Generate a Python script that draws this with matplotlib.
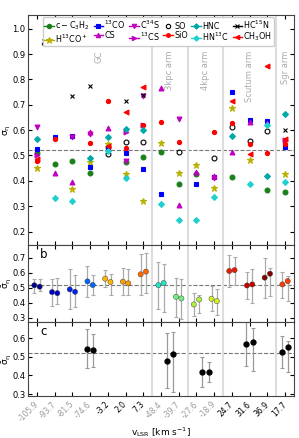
import numpy as np
import matplotlib.pyplot as plt
from matplotlib.lines import Line2D

nan = np.nan

# velocity components (x categories)
vlsr = ['-105.9', '-93.7', '-81.5', '-74.6', '-3.2', '2.0', '7.3',
        '-48.4', '-39.7', '-27.6', '-18.9', '24.7', '31.6', '36.9', '17.7']
tick_grey = [True, True, True, True, False, False, False,
             True, True, True, True, False, False, False, False]

# panel a: sigma_eta per species
c3h2 = [0.51, 0.467, 0.478, 0.432, 0.535, 0.474, 0.495, 0.513, 0.386, 0.425, nan, 0.416, nan, 0.362, 0.355]
h13cop = [0.451, nan, 0.368, 0.475, 0.547, 0.425, 0.32, 0.55, 0.432, 0.462, 0.372, 0.686, 0.484, nan, 0.428]
co13 = [0.524, 0.572, 0.576, 0.454, 0.528, 0.508, 0.447, 0.349, nan, 0.386, 0.414, 0.751, 0.642, 0.636, 0.533]
cs = [nan, 0.432, 0.395, 0.592, 0.609, nan, nan, 0.767, 0.304, 0.436, 0.418, 0.513, 0.633, 0.628, nan]
c34s = [0.613, nan, 0.573, 0.586, nan, 0.48, 0.735, nan, 0.645, nan, 0.41, nan, nan, nan, nan]
cs13 = [0.503, nan, nan, nan, nan, 0.592, 0.62, nan, nan, nan, nan, nan, nan, nan, 0.56]
so = [nan, nan, nan, nan, 0.507, 0.554, 0.554, nan, 0.514, nan, 0.491, 0.612, 0.557, 0.596, nan]
sio = [0.478, 0.565, nan, 0.549, 0.714, 0.529, 0.622, 0.632, 0.554, nan, 0.592, 0.629, 0.547, 0.511, 0.546]
hnc = [0.566, nan, nan, 0.49, 0.574, 0.603, 0.599, nan, nan, nan, nan, 0.576, nan, 0.418, 0.662]
hn13c = [nan, 0.333, 0.32, nan, 0.517, 0.412, nan, 0.307, 0.247, 0.245, 0.336, nan, 0.388, 0.622, 0.396]
hc15n = [nan, nan, 0.734, 0.776, nan, 0.714, 0.737, nan, nan, nan, nan, nan, nan, nan, 0.599]
ch3oh = [0.485, nan, nan, nan, 0.537, 0.672, 0.77, nan, nan, nan, nan, 0.714, 0.504, 0.853, 0.567]

# panel b: mean sigma_eta, two estimates per component (value, lower end, upper end)
b1 = [0.516, 0.471, 0.489, 0.542, 0.56, 0.54, 0.589, 0.517, 0.44, 0.389, 0.427, 0.611, 0.515, 0.567, 0.522]
b1_lo = [0.467, 0.382, 0.356, 0.44, 0.504, 0.449, 0.455, 0.36, 0.307, 0.311, 0.344, 0.507, 0.427, 0.433, 0.433]
b1_hi = [0.56, 0.56, 0.627, 0.644, 0.616, 0.633, 0.722, 0.671, 0.567, 0.467, 0.511, 0.715, 0.607, 0.7, 0.607]
b2 = [0.507, 0.464, 0.473, 0.518, 0.538, 0.529, 0.607, 0.531, 0.429, 0.422, 0.411, 0.617, 0.522, 0.593, 0.544]
b2_lo = [0.478, 0.393, 0.373, 0.451, 0.451, 0.455, 0.467, 0.337, 0.295, 0.335, 0.322, 0.515, 0.4, 0.444, 0.411]
b2_hi = [0.56, 0.567, 0.582, 0.584, 0.593, 0.627, 0.733, 0.655, 0.555, 0.449, 0.493, 0.707, 0.622, 0.629, 0.578]
b_colors = ['#00008f', '#0000c8', '#0020f0', '#0064ff', '#ffb400', '#ff9a00', '#ff6a00',
            '#20e8c0', '#70f080', '#b0f040', '#d8f020', '#ee1a00', '#c80000', '#800000', '#ff3a00']

# panel c: per region (GC, 3kpc, 4kpc, Scutum, Sgr)
region_names = ['GC', '3kpc arm', '4kpc arm', 'Scutum arm', 'Sgr arm']
region_pos = [3.5, 7.5, 9.5, 12, 14]
region_mid = [3, 7.5, 9.5, 12, 14]
region_edges = [6.5, 8.5, 10.5, 13.5]
c1 = [0.541, 0.479, 0.416, 0.568, 0.527]
c1_lo = [0.438, 0.333, 0.336, 0.449, 0.44]
c1_hi = [0.648, 0.625, 0.497, 0.684, 0.612]
c2 = [0.537, 0.514, 0.42, 0.58, 0.55]
c2_lo = [0.447, 0.31, 0.363, 0.422, 0.417]
c2_hi = [0.621, 0.634, 0.47, 0.652, 0.582]

ref = 0.52

plt.rcParams['font.size'] = 6.5
plt.rcParams['mathtext.default'] = 'regular'
fig = plt.figure(figsize=(2.99, 4.38), dpi=100)
gs = fig.add_gridspec(3, 1, height_ratios=[230, 77, 74], hspace=0,
                      left=0.094, right=0.983, top=0.966, bottom=0.096)
ax_a = fig.add_subplot(gs[0])
ax_b = fig.add_subplot(gs[1], sharex=ax_a)
ax_c = fig.add_subplot(gs[2], sharex=ax_a)
x = np.arange(len(vlsr))

species = [
    (c3h2, r'$c-C_3H_2$', 'o', '#1a7f1a', 'full', True),
    (h13cop, r'H$^{13}$CO$^+$', '*', '#b8b000', 'full', True),
    (co13, r'$^{13}$CO', 's', '#0000ff', 'full', True),
    (cs, 'CS', '^', '#c000c0', 'full', True),
    (c34s, r'C$^{34}$S', 'v', '#c000c0', 'full', True),
    (cs13, r'$^{13}$CS', '>', '#c000c0', 'full', True),
    (so, 'SO', 'o', 'k', 'none', False),
    (sio, 'SiO', 'o', '#ff0000', 'full', True),
    (hnc, 'HNC', 'D', '#00a8a8', 'full', True),
    (hn13c, r'HN$^{13}$C', 'D', '#20d0d0', 'full', True),
    (hc15n, r'HC$^{15}$N', 'x', 'k', 'full', True),
    (ch3oh, r'CH$_3$OH', '<', '#ff0000', 'full', True),
]
handles = []
for vals, lab, mk, col, fill, line in species:
    ms = 5 if mk == '*' else 3.5
    if mk == 'D':
        ms = 3
    if lab == 'SiO':
        ms = 3
    ax_a.plot(x, vals, ls='none', marker=mk, color=col, ms=ms, fillstyle=fill,
              mec=col if fill == 'full' else 'k', mew=0.8)
    handles.append(Line2D([], [], ls='-' if line else 'none', lw=1, marker=mk, color=col,
                          ms=ms * 0.9, fillstyle=fill, mew=0.8))
ax_a.legend(handles=handles, labels=[s[1] for s in species], ncol=6, loc='upper center',
            fontsize=5.8, columnspacing=0.45, handlelength=1.2, handletextpad=0.15,
            borderpad=0.2, labelspacing=0.0, borderaxespad=0.25, framealpha=1,
            edgecolor='#cccccc', bbox_to_anchor=(0.49, 1))

for name, pos in zip(region_names, region_pos):
    ax_a.text(pos, 0.915, name, rotation=90, ha='center', va='top', color='#aaaaaa', fontsize=6)

# panel b
ax_b.errorbar(x - 0.15, b1, yerr=[np.array(b1) - np.array(b1_lo), np.array(b1_hi) - np.array(b1)],
              fmt='none', ecolor='#aaaaaa', elinewidth=0.9, capsize=1.5, capthick=0.8)
ax_b.errorbar(x + 0.15, b2, yerr=[np.array(b2) - np.array(b2_lo), np.array(b2_hi) - np.array(b2)],
              fmt='none', ecolor='#aaaaaa', elinewidth=0.9, capsize=1.5, capthick=0.8)
ax_b.scatter(x - 0.15, b1, c=b_colors, s=14, edgecolors='#333333', linewidths=0.3, zorder=3)
ax_b.scatter(x + 0.15, b2, c=b_colors, s=14, edgecolors='#333333', linewidths=0.3, zorder=3)

# panel c
rp = np.array(region_mid)
ax_c.errorbar(rp - 0.19, c1, yerr=[np.array(c1) - np.array(c1_lo), np.array(c1_hi) - np.array(c1)],
              fmt='o', color='k', ms=3.5, ecolor='#999999', elinewidth=0.9, capsize=1.5, capthick=0.8)
ax_c.errorbar(rp + 0.19, c2, yerr=[np.array(c2) - np.array(c2_lo), np.array(c2_hi) - np.array(c2)],
              fmt='o', color='k', ms=3.5, ecolor='#999999', elinewidth=0.9, capsize=1.5, capthick=0.8)

for ax, letter in zip([ax_a, ax_b, ax_c], ['a', 'b', 'c']):
    ax.axhline(ref, color='#777777', ls='--', lw=0.8, zorder=0)
    for e in region_edges:
        ax.axvline(e, color='#dddddd', lw=1.5, zorder=0)
    ax.tick_params(direction='in', top=True, right=True, length=3, width=0.8,
                   labelsize=6, pad=2)
    ax.text(0.045, 0.88 if letter == 'a' else 0.87, letter, transform=ax.transAxes,
            fontsize=8.5, va='center')
    for sp in ax.spines.values():
        sp.set_color('#444444')

ax_a.set_ylim(0.147, 1.055)
ax_a.set_yticks([0.2, 0.3, 0.4, 0.5, 0.6, 0.7, 0.8, 0.9, 1.0])
ax_b.set_ylim(0.273, 0.784)
ax_b.set_yticks([0.3, 0.4, 0.5, 0.6, 0.7])
ax_c.set_ylim(0.29, 0.686)
ax_c.set_yticks([0.3, 0.4, 0.5, 0.6])
ax_a.set_xlim(-0.5, 14.5)
ax_a.set_xticks(x)
ax_c.set_xticklabels(vlsr, rotation=45, ha='right', va='center', rotation_mode='anchor', fontsize=5.5)
ax_c.tick_params(axis='x', pad=5)
for lbl, g in zip(ax_c.get_xticklabels(), tick_grey):
    lbl.set_color('#999999' if g else 'k')
plt.setp(ax_a.get_xticklabels(), visible=False)
plt.setp(ax_b.get_xticklabels(), visible=False)

ax_a.set_ylabel(r'$\sigma_\eta$', fontsize=6.5)
ax_b.set_ylabel(r'$\bar{\sigma}_\eta$', fontsize=6.5)
ax_c.set_ylabel(r'$\bar{\sigma}_\eta$', fontsize=6.5)
for ax in [ax_a, ax_b, ax_c]:
    ax.yaxis.set_label_coords(-0.055, 0.5)
ax_c.set_xlabel(r'v$_{\rm LSR}$ [km s$^{-1}$]', labelpad=1, fontsize=6.5)

fig.savefig('out.png', dpi=100)
